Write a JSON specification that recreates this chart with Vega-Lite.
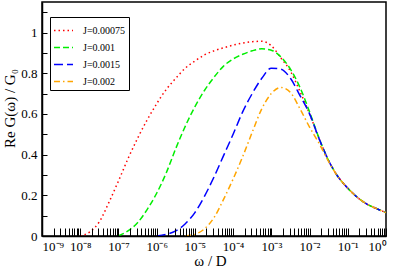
{
  "$schema": "https://vega.github.io/schema/vega-lite/v6.json",
  "width": 344,
  "height": 234,
  "autosize": "none",
  "padding": {"left": 42, "top": 2, "right": 9, "bottom": 33},
  "background": "white",
  "config": {
    "view": {"stroke": "black", "strokeWidth": 1.5},
    "font": "Liberation Serif"
  },
  "data": {
    "values": [
      {"J": "J=0.00075", "w": 1e-8, "G": 0},
      {"J": "J=0.00075", "w": 1.778e-8, "G": 0.02},
      {"J": "J=0.00075", "w": 3.162e-8, "G": 0.07},
      {"J": "J=0.00075", "w": 5.623e-8, "G": 0.165},
      {"J": "J=0.00075", "w": 1e-7, "G": 0.27},
      {"J": "J=0.00075", "w": 1.778e-7, "G": 0.38},
      {"J": "J=0.00075", "w": 3.162e-7, "G": 0.48},
      {"J": "J=0.00075", "w": 5.623e-7, "G": 0.57},
      {"J": "J=0.00075", "w": 1e-6, "G": 0.65},
      {"J": "J=0.00075", "w": 1.778e-6, "G": 0.72},
      {"J": "J=0.00075", "w": 3.162e-6, "G": 0.775},
      {"J": "J=0.00075", "w": 5.623e-6, "G": 0.825},
      {"J": "J=0.00075", "w": 1e-5, "G": 0.86},
      {"J": "J=0.00075", "w": 1.778e-5, "G": 0.89},
      {"J": "J=0.00075", "w": 3.162e-5, "G": 0.91},
      {"J": "J=0.00075", "w": 5.623e-5, "G": 0.925},
      {"J": "J=0.00075", "w": 1e-4, "G": 0.938},
      {"J": "J=0.00075", "w": 1.778e-4, "G": 0.948},
      {"J": "J=0.00075", "w": 3.162e-4, "G": 0.955},
      {"J": "J=0.00075", "w": 5.623e-4, "G": 0.957},
      {"J": "J=0.00075", "w": 1e-3, "G": 0.935},
      {"J": "J=0.00075", "w": 1.778e-3, "G": 0.875},
      {"J": "J=0.00075", "w": 3.162e-3, "G": 0.81},
      {"J": "J=0.00075", "w": 5.623e-3, "G": 0.71},
      {"J": "J=0.00075", "w": 1e-2, "G": 0.6},
      {"J": "J=0.00075", "w": 1.778e-2, "G": 0.478},
      {"J": "J=0.00075", "w": 3.162e-2, "G": 0.37},
      {"J": "J=0.00075", "w": 5.623e-2, "G": 0.29},
      {"J": "J=0.00075", "w": 0.1, "G": 0.235},
      {"J": "J=0.00075", "w": 0.1778, "G": 0.19},
      {"J": "J=0.00075", "w": 0.3162, "G": 0.157},
      {"J": "J=0.00075", "w": 0.5623, "G": 0.135},
      {"J": "J=0.00075", "w": 1, "G": 0.115},

      {"J": "J=0.001", "w": 1e-7, "G": 0},
      {"J": "J=0.001", "w": 1.778e-7, "G": 0.025},
      {"J": "J=0.001", "w": 3.162e-7, "G": 0.065},
      {"J": "J=0.001", "w": 5.623e-7, "G": 0.13},
      {"J": "J=0.001", "w": 1e-6, "G": 0.21},
      {"J": "J=0.001", "w": 1.778e-6, "G": 0.31},
      {"J": "J=0.001", "w": 3.162e-6, "G": 0.43},
      {"J": "J=0.001", "w": 5.623e-6, "G": 0.54},
      {"J": "J=0.001", "w": 1e-5, "G": 0.635},
      {"J": "J=0.001", "w": 1.778e-5, "G": 0.715},
      {"J": "J=0.001", "w": 3.162e-5, "G": 0.78},
      {"J": "J=0.001", "w": 5.623e-5, "G": 0.835},
      {"J": "J=0.001", "w": 1e-4, "G": 0.87},
      {"J": "J=0.001", "w": 1.778e-4, "G": 0.893},
      {"J": "J=0.001", "w": 3.162e-4, "G": 0.91},
      {"J": "J=0.001", "w": 5.623e-4, "G": 0.92},
      {"J": "J=0.001", "w": 1e-3, "G": 0.913},
      {"J": "J=0.001", "w": 1.778e-3, "G": 0.88},
      {"J": "J=0.001", "w": 3.162e-3, "G": 0.82},
      {"J": "J=0.001", "w": 5.623e-3, "G": 0.73},
      {"J": "J=0.001", "w": 1e-2, "G": 0.61},
      {"J": "J=0.001", "w": 1.778e-2, "G": 0.48},
      {"J": "J=0.001", "w": 3.162e-2, "G": 0.37},
      {"J": "J=0.001", "w": 5.623e-2, "G": 0.29},
      {"J": "J=0.001", "w": 0.1, "G": 0.235},
      {"J": "J=0.001", "w": 0.1778, "G": 0.19},
      {"J": "J=0.001", "w": 0.3162, "G": 0.157},
      {"J": "J=0.001", "w": 0.5623, "G": 0.135},
      {"J": "J=0.001", "w": 1, "G": 0.115},

      {"J": "J=0.0015", "w": 1e-6, "G": 0},
      {"J": "J=0.0015", "w": 1.778e-6, "G": 0.008},
      {"J": "J=0.0015", "w": 3.162e-6, "G": 0.025},
      {"J": "J=0.0015", "w": 5.623e-6, "G": 0.06},
      {"J": "J=0.0015", "w": 1e-5, "G": 0.115},
      {"J": "J=0.0015", "w": 1.778e-5, "G": 0.195},
      {"J": "J=0.0015", "w": 3.162e-5, "G": 0.29},
      {"J": "J=0.0015", "w": 5.623e-5, "G": 0.395},
      {"J": "J=0.0015", "w": 1e-4, "G": 0.5},
      {"J": "J=0.0015", "w": 1.778e-4, "G": 0.61},
      {"J": "J=0.0015", "w": 3.162e-4, "G": 0.7},
      {"J": "J=0.0015", "w": 5.623e-4, "G": 0.775},
      {"J": "J=0.0015", "w": 1e-3, "G": 0.825},
      {"J": "J=0.0015", "w": 1.778e-3, "G": 0.82},
      {"J": "J=0.0015", "w": 3.162e-3, "G": 0.775},
      {"J": "J=0.0015", "w": 5.623e-3, "G": 0.69},
      {"J": "J=0.0015", "w": 1e-2, "G": 0.6},
      {"J": "J=0.0015", "w": 1.778e-2, "G": 0.478},
      {"J": "J=0.0015", "w": 3.162e-2, "G": 0.37},
      {"J": "J=0.0015", "w": 5.623e-2, "G": 0.29},
      {"J": "J=0.0015", "w": 0.1, "G": 0.235},
      {"J": "J=0.0015", "w": 0.1778, "G": 0.19},
      {"J": "J=0.0015", "w": 0.3162, "G": 0.157},
      {"J": "J=0.0015", "w": 0.5623, "G": 0.135},
      {"J": "J=0.0015", "w": 1, "G": 0.115},

      {"J": "J=0.002", "w": 5.623e-6, "G": 0},
      {"J": "J=0.002", "w": 1e-5, "G": 0.008},
      {"J": "J=0.002", "w": 1.778e-5, "G": 0.035},
      {"J": "J=0.002", "w": 3.162e-5, "G": 0.09},
      {"J": "J=0.002", "w": 5.623e-5, "G": 0.18},
      {"J": "J=0.002", "w": 1e-4, "G": 0.28},
      {"J": "J=0.002", "w": 1.778e-4, "G": 0.39},
      {"J": "J=0.002", "w": 3.162e-4, "G": 0.51},
      {"J": "J=0.002", "w": 5.623e-4, "G": 0.625},
      {"J": "J=0.002", "w": 1e-3, "G": 0.7},
      {"J": "J=0.002", "w": 1.778e-3, "G": 0.73},
      {"J": "J=0.002", "w": 3.162e-3, "G": 0.705},
      {"J": "J=0.002", "w": 5.623e-3, "G": 0.625},
      {"J": "J=0.002", "w": 1e-2, "G": 0.535},
      {"J": "J=0.002", "w": 1.778e-2, "G": 0.455},
      {"J": "J=0.002", "w": 3.162e-2, "G": 0.365},
      {"J": "J=0.002", "w": 5.623e-2, "G": 0.29},
      {"J": "J=0.002", "w": 0.1, "G": 0.235},
      {"J": "J=0.002", "w": 0.1778, "G": 0.19},
      {"J": "J=0.002", "w": 0.3162, "G": 0.157},
      {"J": "J=0.002", "w": 0.5623, "G": 0.135},
      {"J": "J=0.002", "w": 1, "G": 0.115}
    ]
  },
  "mark": {"type": "line", "strokeWidth": 1.5, "interpolate": "monotone", "clip": true},
  "encoding": {
    "x": {
      "field": "w",
      "type": "quantitative",
      "scale": {"type": "log", "domain": [1e-9, 1], "nice": false},
      "axis": {
        "values": [1e-9,2e-9,3e-9,4e-9,5e-9,6e-9,7e-9,8e-9,9e-9,
                   1e-8,2e-8,3e-8,4e-8,5e-8,6e-8,7e-8,8e-8,9e-8,
                   1e-7,2e-7,3e-7,4e-7,5e-7,6e-7,7e-7,8e-7,9e-7,
                   1e-6,2e-6,3e-6,4e-6,5e-6,6e-6,7e-6,8e-6,9e-6,
                   1e-5,2e-5,3e-5,4e-5,5e-5,6e-5,7e-5,8e-5,9e-5,
                   1e-4,2e-4,3e-4,4e-4,5e-4,6e-4,7e-4,8e-4,9e-4,
                   1e-3,2e-3,3e-3,4e-3,5e-3,6e-3,7e-3,8e-3,9e-3,
                   1e-2,2e-2,3e-2,4e-2,5e-2,6e-2,7e-2,8e-2,9e-2,
                   0.1,0.2,0.3,0.4,0.5,0.6,0.7,0.8,0.9,1],
        "labelExpr": "abs(log(datum.value)/LN10 - round(log(datum.value)/LN10)) < 0.01 ? (round(log(datum.value)/LN10) == 0 ? '10⁰' : '10⁻' + substring('⁰¹²³⁴⁵⁶⁷⁸⁹', -round(log(datum.value)/LN10), -round(log(datum.value)/LN10) + 1)) : ''",
        "labelOverlap": false,
        "labelFontSize": 13,
        "labelColor": "black",
        "labelPadding": 12,
        "ticks": true,
        "tickSize": -8,
        "tickColor": "black",
        "tickWidth": 1,
        "tickOpacity": 1,
        "zindex": 2,
        "encode": {
          "ticks": {
            "update": {
              "y2": {"signal": "abs(log(datum.value)/LN10 - round(log(datum.value)/LN10)) < 0.01 ? -8 : -4"}
            }
          }
        },
        "domainColor": "black",
        "domainWidth": 1.5,
        "grid": false,
        "title": "ω  / D",
        "titleFontSize": 15,
        "titleFontWeight": "normal",
        "titleColor": "black",
        "titleX": 168,
        "titleY": 29,
        "titleAlign": "center",
        "titleBaseline": "alphabetic"
      }
    },
    "y": {
      "field": "G",
      "type": "quantitative",
      "scale": {"domain": [0, 1.15], "nice": false, "zero": false},
      "axis": {
        "values": [0, 0.1, 0.2, 0.3, 0.4, 0.5, 0.6, 0.7, 0.8, 0.9, 1.0, 1.1],
        "labelExpr": "round(datum.value*10) % 2 == 0 ? format(datum.value, '~g') : ''",
        "labelOverlap": false,
        "labelFontSize": 13,
        "labelColor": "black",
        "labelPadding": 10,
        "ticks": true,
        "tickSize": -5,
        "tickColor": "black",
        "tickWidth": 1,
        "tickOpacity": 1,
        "zindex": 2,
        "encode": {
          "ticks": {
            "update": {
              "x2": {"signal": "round(datum.value*10) % 2 == 0 ? 5 : 3"}
            }
          }
        },
        "domainColor": "black",
        "domainWidth": 1.5,
        "grid": false,
        "title": "Re G(ω) / G₀",
        "titleFontSize": 15,
        "titleFontWeight": "normal",
        "titleColor": "black",
        "titleAngle": -90,
        "titleX": -28,
        "titleY": 106,
        "titleAlign": "center",
        "titleBaseline": "alphabetic"
      }
    },
    "color": {
      "field": "J",
      "type": "nominal",
      "sort": ["J=0.00075", "J=0.001", "J=0.0015", "J=0.002"],
      "scale": {"domain": ["J=0.00075", "J=0.001", "J=0.0015", "J=0.002"], "range": ["#ff0000", "#00ee00", "#0000ff", "#ffa500"]},
      "legend": {
        "orient": "none", "legendX": 8, "legendY": 15, "title": null,
        "strokeColor": "black", "fillColor": "white", "padding": 3,
        "symbolType": "stroke", "symbolSize": 361, "symbolStrokeWidth": 1.5,
        "labelFont": "Liberation Serif", "labelFontSize": 10, "labelColor": "black",
        "rowPadding": 1, "labelOffset": 9
      }
    },
    "strokeDash": {
      "field": "J",
      "type": "nominal",
      "sort": ["J=0.00075", "J=0.001", "J=0.0015", "J=0.002"],
      "scale": {"domain": ["J=0.00075", "J=0.001", "J=0.0015", "J=0.002"], "range": [[1.5, 3], [6, 3], [9, 4], [6, 3, 1.5, 3]]},
      "legend": {
        "orient": "none", "legendX": 8, "legendY": 15, "title": null,
        "strokeColor": "black", "fillColor": "white", "padding": 3,
        "symbolType": "stroke", "symbolSize": 361, "symbolStrokeWidth": 1.5,
        "labelFont": "Liberation Serif", "labelFontSize": 10, "labelColor": "black",
        "rowPadding": 1, "labelOffset": 9
      }
    }
  }
}
